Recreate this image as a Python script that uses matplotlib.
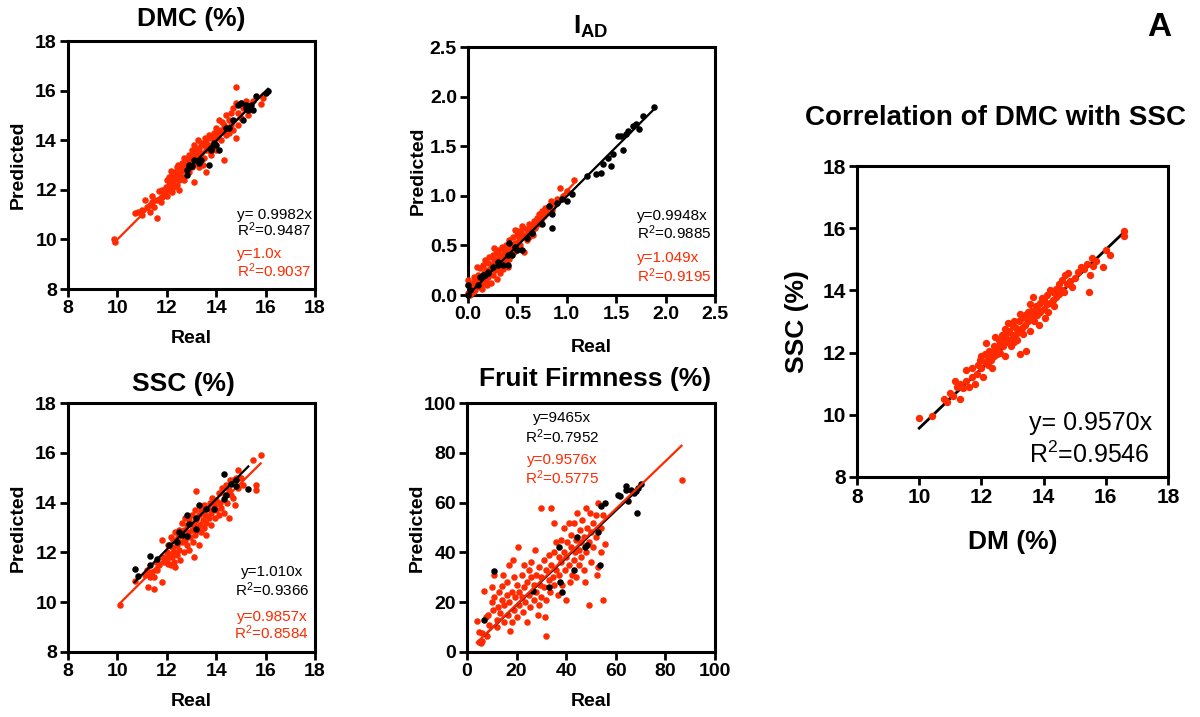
import numpy as np
import matplotlib
matplotlib.use("Agg")
import matplotlib.pyplot as plt

plt.rcParams['font.family'] = ['Liberation Sans', 'DejaVu Sans']
plt.rcParams['mathtext.fontset'] = 'custom'
plt.rcParams['mathtext.rm'] = 'Liberation Sans'
plt.rcParams['mathtext.it'] = 'Liberation Sans:italic'
plt.rcParams['mathtext.bf'] = 'Liberation Sans:bold'

RED = '#ff2a00'

# ---- DMC (%) ----
dmc_black = [(12.8, 12.6), (12.9, 12.9), (12.9, 13.0), (12.8, 12.8), (13.3, 13.1), (13.4, 13.2),
             (13.1, 13.2), (13.7, 13.0), (13.8, 13.6), (13.8, 13.7), (13.9, 13.9), (14.1, 13.6),
             (14.4, 14.5), (14.5, 14.5), (14.7, 14.8), (14.9, 15.4), (15.0, 15.5), (15.1, 14.8),
             (15.2, 15.3), (15.3, 15.2), (15.4, 15.4), (15.5, 15.2), (15.6, 15.8), (16.0, 15.9),
             (16.1, 16.0), (15.2, 15.4), (14.0, 13.8), (13.0, 12.95)]
dmc_red = [(9.85, 10.0), (9.9, 9.9), (10.7, 11.05), (10.85, 11.1), (11.0, 11.2), (11.0, 11.0),
           (11.1, 11.6), (11.2, 11.3), (11.3, 11.4), (11.3, 11.1), (11.4, 11.75), (11.4, 11.5),
           (11.5, 11.3), (11.5, 11.6), (11.6, 10.85), (11.6, 11.6), (11.7, 11.95), (11.8, 11.7),
           (11.8, 12.0), (11.9, 11.8), (12.0, 12.4), (12.0, 12.0), (12.0, 11.75), (12.1, 12.5),
           (12.1, 12.2), (12.2, 12.6), (12.2, 12.3), (12.2, 11.9), (12.3, 12.7), (12.3, 12.45),
           (12.3, 12.1), (12.4, 12.9), (12.4, 12.5), (12.4, 12.2), (12.5, 12.7), (12.5, 12.4),
           (12.5, 12.0), (12.6, 13.1), (12.6, 12.8), (12.6, 12.5), (12.7, 13.3), (12.7, 12.9),
           (12.7, 12.4), (12.8, 13.2), (12.8, 13.0), (12.9, 13.4), (12.9, 12.7), (13.0, 13.6),
           (13.0, 13.2), (13.0, 12.9), (13.1, 13.8), (13.1, 13.4), (13.1, 12.3), (13.2, 13.5),
           (13.2, 13.1), (13.3, 13.7), (13.3, 13.3), (13.3, 12.9), (13.4, 13.9), (13.4, 13.5),
           (13.5, 13.8), (13.5, 13.3), (13.6, 14.0), (13.6, 13.6), (13.6, 12.7), (13.7, 14.2),
           (13.7, 13.8), (13.8, 14.1), (13.8, 13.4), (13.9, 14.3), (13.9, 13.9), (14.0, 14.5),
           (14.0, 14.1), (14.0, 13.6), (14.1, 14.8), (14.1, 14.3), (14.2, 14.4), (14.2, 14.0),
           (14.3, 14.6), (14.3, 13.2), (14.4, 15.0), (14.4, 14.2), (14.5, 14.8), (14.5, 14.3),
           (14.6, 15.1), (14.6, 14.6), (14.7, 15.3), (14.7, 14.4), (14.8, 16.15), (14.8, 15.5),
           (14.8, 14.1), (14.9, 15.1), (14.9, 14.6), (15.0, 15.5), (15.0, 14.9), (15.1, 15.3),
           (15.2, 15.6), (15.3, 15.0), (15.5, 15.6), (15.8, 15.45), (15.9, 15.7), (12.1, 12.0),
           (12.35, 12.55), (12.55, 12.9), (12.85, 13.3), (13.15, 13.6), (13.45, 13.0), (13.75, 13.55),
           (14.05, 14.35), (14.25, 14.75), (11.95, 12.1), (12.15, 12.75), (12.45, 13.0), (13.25, 14.0),
           (13.55, 14.1), (11.75, 11.5)]

# ---- I_AD ----
iad_black = [(0.0, 0.1), (0.02, 0.05), (0.0, 0.0), (0.12, 0.18), (0.15, 0.2), (0.17, 0.2), (0.2, 0.23),
             (0.1, 0.1), (0.25, 0.28), (0.3, 0.3), (0.3, 0.33), (0.35, 0.3), (0.4, 0.3), (0.4, 0.4),
             (0.45, 0.4), (0.5, 0.45), (0.55, 0.45), (0.6, 0.57), (0.65, 0.62), (0.75, 0.72),
             (0.82, 0.9), (0.85, 0.68), (0.85, 0.82), (0.9, 0.93), (0.95, 0.97), (1.0, 0.95),
             (1.05, 1.02), (1.2, 1.2), (1.3, 1.22), (1.35, 1.23), (1.37, 1.32), (1.42, 1.38),
             (1.45, 1.3), (1.47, 1.42), (1.52, 1.6), (1.55, 1.6), (1.57, 1.46), (1.6, 1.62),
             (1.62, 1.65), (1.67, 1.7), (1.7, 1.72), (1.73, 1.67), (1.77, 1.8), (1.88, 1.9),
             (0.2, 0.22), (0.42, 0.52), (0.48, 0.48), (0.65, 0.63)]
iad_red = [(0.0, 0.02), (0.0, 0.1), (0.0, 0.15), (0.02, 0.0), (0.03, 0.08), (0.05, 0.12), (0.05, 0.03),
           (0.06, 0.18), (0.07, 0.05), (0.08, 0.1), (0.1, 0.2), (0.1, 0.13), (0.12, 0.08), (0.12, 0.27),
           (0.13, 0.17), (0.15, 0.3), (0.15, 0.12), (0.16, 0.22), (0.17, 0.35), (0.18, 0.15),
           (0.18, 0.25), (0.2, 0.32), (0.2, 0.18), (0.21, 0.38), (0.22, 0.26), (0.23, 0.12),
           (0.24, 0.3), (0.25, 0.4), (0.25, 0.2), (0.26, 0.35), (0.27, 0.25), (0.28, 0.42),
           (0.28, 0.31), (0.29, 0.16), (0.3, 0.36), (0.3, 0.45), (0.31, 0.27), (0.32, 0.4),
           (0.33, 0.33), (0.34, 0.48), (0.35, 0.38), (0.35, 0.26), (0.36, 0.44), (0.37, 0.35),
           (0.38, 0.5), (0.39, 0.41), (0.4, 0.47), (0.41, 0.36), (0.42, 0.55), (0.43, 0.45),
           (0.44, 0.4), (0.45, 0.5), (0.46, 0.58), (0.47, 0.43), (0.48, 0.52), (0.5, 0.6),
           (0.5, 0.47), (0.51, 0.65), (0.52, 0.55), (0.53, 0.5), (0.54, 0.62), (0.55, 0.58),
           (0.56, 0.68), (0.57, 0.43), (0.58, 0.6), (0.6, 0.67), (0.6, 0.55), (0.62, 0.72),
           (0.63, 0.65), (0.65, 0.7), (0.66, 0.6), (0.67, 0.75), (0.68, 0.68), (0.7, 0.78),
           (0.71, 0.72), (0.72, 0.82), (0.74, 0.76), (0.75, 0.85), (0.77, 0.8), (0.78, 0.88),
           (0.8, 0.83), (0.82, 0.9), (0.84, 0.95), (0.85, 0.86), (0.88, 0.92), (0.9, 0.97),
           (0.93, 1.08), (0.96, 1.0), (1.0, 1.05), (1.07, 1.16), (0.14, 0.06), (0.19, 0.1),
           (0.09, 0.28), (0.32, 0.22), (0.26, 0.47), (0.4, 0.28), (0.55, 0.7), (0.48, 0.66),
           (0.62, 0.58), (0.07, 0.15)]

# ---- SSC (%) ----
ssc_black = [(10.7, 11.35), (10.85, 11.05), (11.3, 11.5), (11.3, 11.85), (11.6, 11.75), (12.1, 12.3),
             (12.4, 12.4), (12.5, 12.8), (12.6, 12.7), (12.8, 13.5), (12.8, 12.65), (12.9, 13.15),
             (13.2, 12.95), (13.2, 13.4), (13.3, 13.9), (13.6, 13.75), (13.9, 13.75), (14.3, 15.15),
             (14.3, 14.15), (14.4, 14.3), (14.6, 14.75), (14.8, 14.65), (14.8, 14.9), (15.3, 14.55)]
ssc_red = [(10.1, 9.9), (10.7, 10.85), (11.1, 11.1), (11.2, 11.3), (11.25, 10.6), (11.3, 11.0),
           (11.4, 11.2), (11.5, 10.55), (11.5, 11.0), (11.55, 11.6), (11.6, 11.3), (11.7, 11.5),
           (11.8, 10.8), (11.8, 12.5), (11.85, 11.8), (11.9, 11.6), (12.0, 12.0), (12.0, 11.7),
           (12.05, 12.3), (12.1, 11.9), (12.15, 11.5), (12.2, 12.2), (12.2, 11.8), (12.25, 12.5),
           (12.3, 12.0), (12.3, 11.6), (12.35, 12.8), (12.4, 12.3), (12.4, 11.9), (12.45, 12.6),
           (12.5, 12.1), (12.5, 12.9), (12.55, 11.7), (12.6, 12.4), (12.6, 13.2), (12.65, 12.7),
           (12.7, 12.0), (12.7, 12.9), (12.75, 12.5), (12.8, 12.3), (12.8, 13.1), (12.85, 12.8),
           (12.9, 12.1), (12.9, 13.3), (12.95, 12.6), (13.0, 12.9), (13.0, 13.5), (13.05, 12.4),
           (13.1, 13.1), (13.1, 11.8), (13.15, 12.7), (13.2, 13.3), (13.2, 14.45), (13.25, 12.9),
           (13.3, 13.5), (13.3, 12.3), (13.35, 13.1), (13.4, 13.7), (13.4, 12.8), (13.45, 13.3),
           (13.5, 13.0), (13.5, 13.9), (13.55, 13.5), (13.6, 13.2), (13.6, 12.7), (13.65, 13.8),
           (13.7, 13.4), (13.75, 14.0), (13.8, 13.6), (13.8, 13.1), (13.85, 14.2), (13.9, 13.9),
           (13.95, 13.4), (14.0, 14.1), (14.0, 13.7), (14.1, 14.4), (14.1, 13.5), (14.15, 14.0),
           (14.2, 13.8), (14.25, 14.6), (14.3, 13.6), (14.35, 14.3), (14.4, 14.7), (14.45, 14.0),
           (14.5, 14.5), (14.5, 13.4), (14.55, 14.9), (14.6, 14.3), (14.7, 14.9), (14.7, 14.2),
           (14.75, 13.9), (14.8, 15.0), (14.9, 15.3), (14.9, 14.6), (15.0, 15.0), (15.1, 14.7),
           (15.5, 15.7), (15.6, 14.7), (15.6, 14.5), (15.8, 15.9), (12.15, 12.6), (12.35, 11.4),
           (12.75, 13.4), (13.15, 13.7), (12.05, 11.55)]

# ---- Fruit Firmness (%) ----
ff_black = [(7, 13), (11, 32.5), (26.5, 24.5), (33, 26), (37, 42), (37.5, 28), (38.5, 24), (43, 33),
            (44.5, 46), (47.5, 42), (48.5, 43), (53, 48), (53.5, 35), (54, 58.5), (55.5, 60), (61, 63),
            (61.5, 62.5), (64, 65), (64, 66.5), (65, 60.5), (66, 65), (67.5, 64), (68.5, 56), (69, 66),
            (70, 67.5), (68, 64.5)]
ff_red = [(4, 12.5), (5, 4), (5, 8), (5.5, 3.5), (6, 7.5), (6, 4.5), (7, 24.5), (7.5, 14), (8, 6.5),
          (8.5, 15), (9, 11), (10, 20), (10, 26), (10.5, 17), (11, 31), (11, 22), (12, 13), (12, 10),
          (12.5, 18), (13, 24), (13.5, 15.5), (14, 26.5), (14, 21), (14.5, 31), (15, 12), (15, 19),
          (16, 23), (16, 28), (16.5, 15), (17, 35), (17, 20), (17.5, 8.5), (18, 24), (18, 12),
          (18.5, 37), (19, 30), (19, 17), (19.5, 22), (20, 27), (20, 14), (20.5, 42), (21, 24),
          (21, 19), (22, 31), (22, 22), (22.5, 16), (23, 35), (23, 26), (23.5, 20), (24, 28),
          (24, 12), (25, 33), (25, 23), (25.5, 18), (26, 30), (26, 36), (27, 21), (27, 27),
          (27.5, 41), (28, 31), (28, 24), (28.5, 15), (29, 34), (29, 19), (29.5, 27), (30, 58),
          (30, 30), (30, 22), (31, 37), (31, 26), (31.5, 14), (32, 6.5), (32, 33), (32, 21),
          (33, 39), (33, 29), (33.5, 24), (34, 58), (34, 35), (34.5, 30), (35, 52), (35, 40),
          (35, 27), (36, 44), (36, 33), (36.5, 23), (37, 38), (37, 31), (38, 45), (38, 36),
          (38.5, 27), (39, 40), (39, 50), (39.5, 33), (40, 21), (40, 38), (40.5, 44), (41, 52),
          (41, 35), (41.5, 28), (42, 42), (42, 47), (42.5, 31), (43, 37), (43, 52), (43.5, 40),
          (44, 45), (44, 30), (44.5, 56), (45, 41), (45, 35), (45.5, 49), (46, 44), (46, 38),
          (46.5, 53), (47, 46), (47, 33), (47.5, 28), (48, 58), (48, 40), (48.5, 50), (49, 19),
          (49, 44), (49.5, 56), (50, 48), (50, 36), (51, 52), (51, 42), (52, 46), (52, 55),
          (52.5, 31), (53, 34), (53, 60), (54, 50), (54, 40), (55, 21), (55.5, 43.5), (55, 55),
          (86.5, 69)]

# ---- DM vs SSC correlation ----
corr_red = [(10.0, 9.9), (10.4, 9.95), (10.8, 10.5), (10.9, 10.4), (11.0, 10.7), (11.1, 10.6),
            (11.15, 11.1), (11.2, 10.9), (11.3, 10.5), (11.3, 11.0), (11.4, 10.85), (11.5, 11.1),
            (11.5, 11.45), (11.6, 10.9), (11.7, 11.2), (11.7, 11.5), (11.8, 11.0), (11.85, 11.3),
            (11.9, 11.6), (12.0, 11.5), (12.0, 11.9), (12.05, 11.2), (12.1, 11.7), (12.1, 11.95),
            (12.2, 11.6), (12.2, 11.85), (12.25, 12.05), (12.3, 11.75), (12.3, 12.0), (12.35, 11.5),
            (12.4, 11.9), (12.4, 12.2), (12.45, 12.5), (12.5, 11.95), (12.5, 12.15), (12.55, 12.4),
            (12.6, 12.0), (12.6, 12.3), (12.65, 12.55), (12.7, 12.2), (12.7, 12.45), (12.75, 11.9),
            (12.8, 12.35), (12.8, 12.6), (12.85, 12.95), (12.9, 12.4), (12.9, 12.7), (12.95, 12.2),
            (13.0, 12.55), (13.0, 12.85), (13.05, 13.0), (13.1, 12.6), (13.1, 12.8), (13.15, 12.4),
            (13.2, 12.7), (13.2, 13.0), (13.25, 11.95), (13.3, 12.8), (13.3, 13.1), (13.35, 12.6),
            (13.4, 12.9), (13.4, 13.2), (13.45, 12.05), (13.5, 13.0), (13.5, 13.3), (13.55, 12.7),
            (13.6, 13.1), (13.6, 13.35), (13.65, 13.8), (13.7, 13.0), (13.7, 13.3), (13.75, 13.5),
            (13.8, 13.2), (13.8, 13.45), (13.85, 12.9), (13.9, 13.3), (13.9, 13.6), (13.95, 13.75),
            (14.0, 13.4), (14.0, 13.7), (14.05, 13.1), (14.1, 13.55), (14.1, 13.85), (14.15, 13.3),
            (14.2, 13.6), (14.2, 14.0), (14.3, 13.7), (14.3, 13.95), (14.35, 13.5), (14.4, 13.8),
            (14.4, 14.05), (14.5, 13.9), (14.5, 14.2), (14.6, 14.0), (14.6, 14.35), (14.65, 13.95),
            (14.7, 14.5), (14.75, 14.2), (14.8, 14.55), (14.85, 14.3), (14.9, 14.1), (15.0, 14.4),
            (15.1, 14.6), (15.2, 14.75), (15.3, 14.7), (15.4, 14.85), (15.45, 13.95), (15.5, 14.5),
            (15.55, 15.05), (15.6, 14.8), (15.7, 14.95), (15.9, 14.75), (16.0, 15.3), (16.15, 15.15),
            (16.6, 15.9), (16.6, 15.75), (11.95, 11.75), (12.15, 12.3), (12.45, 12.15), (12.75, 12.75),
            (13.05, 12.35), (13.25, 13.25), (13.55, 13.55)]

W, H = 1200, 717
fig = plt.figure(figsize=(W / 100, H / 100), dpi=100)


def make_ax(l, t, r, b):
    return fig.add_axes([l / W, 1 - b / H, (r - l) / W, (b - t) / H])


def style(ax, lim, ticks, fs=14):
    ax.set_xlim(lim)
    ax.set_ylim(lim)
    ax.set_xticks(ticks)
    ax.set_yticks(ticks)
    for s in ax.spines.values():
        s.set_linewidth(2.2)
    ax.tick_params(direction='out', length=6, width=2, labelsize=fs, pad=2)


def scatter(ax, pts, color, s=22, z=3):
    p = np.array(pts, dtype=float)
    ax.scatter(p[:, 0], p[:, 1], s=s, color=color, lw=0, zorder=z, clip_on=False)


def fitline(ax, pts, slope, color, z=4, lw=1.6):
    p = np.array(pts, dtype=float)
    xs = np.array([p[:, 0].min(), p[:, 0].max()])
    ax.plot(xs, slope * xs, color=color, lw=lw, zorder=z)


small = [
    dict(box=(68, 41, 315, 289), lim=(8, 18), ticks=[8, 10, 12, 14, 16, 18], fmt='{:g}',
         title='DMC (%)', tpos=(191, 19), black=dmc_black, red=dmc_red, bs=0.9982, rs=1.0,
         bt=('y= 0.9982x', 'R$^2$=0.9487'), rt=('y=1.0x', 'R$^2$=0.9037'),
         tx=0.684, ty=(0.30, 0.24, 0.14, 0.075), ha='left', lab=(-0.2, -0.198)),
    dict(box=(468, 47, 715, 295), lim=(0, 2.5), ticks=[0, 0.5, 1.0, 1.5, 2.0, 2.5], fmt='{:.1f}',
         title=r'$\mathbf{I_{AD}}$', tpos=(591, 27), black=iad_black, red=iad_red, bs=0.9948, rs=1.049,
         bt=('y=0.9948x', 'R$^2$=0.9885'), rt=('y=1.049x', 'R$^2$=0.9195'),
         tx=0.684, ty=(0.32, 0.25, 0.15, 0.077), ha='left', lab=(-0.2, -0.21)),
    dict(box=(68, 403, 315, 652), lim=(8, 18), ticks=[8, 10, 12, 14, 16, 18], fmt='{:g}',
         title='SSC (%)', tpos=(183, 384), black=ssc_black, red=ssc_red, bs=1.010, rs=0.9857,
         bt=('y=1.010x', 'R$^2$=0.9366'), rt=('y=0.9857x', 'R$^2$=0.8584'),
         tx=0.825, ty=(0.32, 0.25, 0.14, 0.076), ha='center', lab=(-0.2, -0.2)),
    dict(box=(467, 403, 715, 652), lim=(0, 100), ticks=[0, 20, 40, 60, 80, 100], fmt='{:g}',
         title='Fruit Firmness (%)', tpos=(595, 379), black=ff_black, red=ff_red, bs=0.9465, rs=0.9576,
         bt=('y=9465x', 'R$^2$=0.7952'), rt=('y=0.9576x', 'R$^2$=0.5775'),
         tx=0.383, ty=(0.94, 0.865, 0.77, 0.70), ha='center', lab=(-0.2, -0.2)),
]

for i, p in enumerate(small):
    ax = make_ax(*p['box'])
    style(ax, p['lim'], p['ticks'])
    ax.set_xticklabels([p['fmt'].format(t) for t in p['ticks']], fontweight='bold')
    ax.set_yticklabels([p['fmt'].format(t) for t in p['ticks']], fontweight='bold')
    if i == 3:
        scatter(ax, p['red'], RED, z=3)
        scatter(ax, p['black'], 'black', z=4)
        fitline(ax, p['black'], p['bs'], 'black', z=5)
        fitline(ax, p['red'], p['rs'], RED, z=6)
    else:
        scatter(ax, p['red'], RED, z=3)
        fitline(ax, p['red'], p['rs'], RED, z=4)
        scatter(ax, p['black'], 'black', z=5)
        fitline(ax, p['black'], p['bs'], 'black', z=6)
    fig.text(p['tpos'][0] / W, 1 - p['tpos'][1] / H, p['title'], ha='center', va='center',
             fontsize=19, fontweight='bold')
    ax.set_xlabel('Real', fontsize=14, fontweight='bold')
    ax.set_ylabel('Predicted', fontsize=14, fontweight='bold')
    ax.yaxis.set_label_coords(p['lab'][0], 0.5)
    ax.xaxis.set_label_coords(0.5, p['lab'][1])
    ax.xaxis.label.set_va('center')
    ax.yaxis.label.set_va('center')
    ty = p['ty']
    kw = dict(transform=ax.transAxes, ha=p['ha'], va='center', fontsize=11)
    ax.text(p['tx'], ty[0], p['bt'][0], **kw)
    ax.text(p['tx'], ty[1], p['bt'][1], **kw)
    ax.text(p['tx'], ty[2], p['rt'][0], color=RED, **kw)
    ax.text(p['tx'], ty[3], p['rt'][1], color=RED, **kw)

# correlation panel
ax = make_ax(857, 166, 1168, 477)
ticks = [8, 10, 12, 14, 16, 18]
style(ax, (8, 18), ticks, fs=15)
ax.set_xticklabels([str(t) for t in ticks], fontweight='bold')
ax.set_yticklabels([str(t) for t in ticks], fontweight='bold')
scatter(ax, corr_red, RED, s=28, z=3)
fitline(ax, corr_red, 0.957, 'black', z=2, lw=2)
ax.set_xlabel('DM (%)', fontsize=19, fontweight='bold')
ax.set_ylabel('SSC (%)', fontsize=19, fontweight='bold')
ax.xaxis.set_label_coords(0.5, -0.209)
ax.yaxis.set_label_coords(-0.193, 0.5)
ax.xaxis.label.set_va('center')
ax.yaxis.label.set_va('center')
ax.text(0.553, 0.174, 'y= 0.9570x', transform=ax.transAxes, ha='left', va='center', fontsize=18)
ax.text(0.553, 0.07, 'R$^2$=0.9546', transform=ax.transAxes, ha='left', va='center', fontsize=18)
fig.text(995 / W, 1 - 118 / H, 'Correlation of DMC with SSC', ha='center', va='center',
         fontsize=20, fontweight='bold')
fig.text(1159 / W, 1 - 28 / H, 'A', ha='center', va='center', fontsize=24, fontweight='bold')

fig.savefig('out.png', dpi=100)
